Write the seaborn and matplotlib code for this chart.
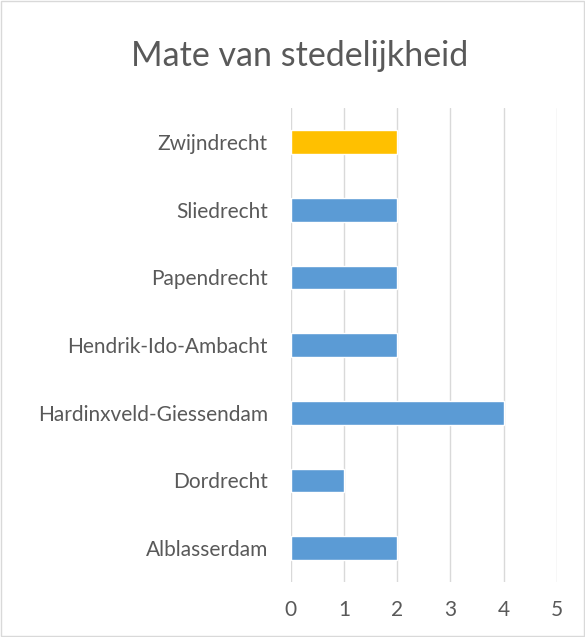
import matplotlib
matplotlib.use("Agg")
import matplotlib.pyplot as plt
import seaborn as sns
import pandas as pd

gemeenten = ['Zwijndrecht', 'Sliedrecht', 'Papendrecht', 'Hendrik-Ido-Ambacht',
             'Hardinxveld-Giessendam', 'Dordrecht', 'Alblasserdam']
stedelijkheid = [2, 2, 2, 2, 4, 1, 2]
kleuren = ['#FFC000', '#5B9BD5', '#5B9BD5', '#5B9BD5', '#5B9BD5', '#5B9BD5', '#5B9BD5']

sns.set_style('white')
plt.rcParams['font.family'] = ['Lato', 'DejaVu Sans']
text_kleur = '#595959'

df = pd.DataFrame({'gemeente': gemeenten, 'waarde': stedelijkheid})

fig = plt.figure(figsize=(5.85, 6.37), dpi=100)
ax = fig.add_axes([0.497, 0.0863, 0.455, 0.744])

sns.barplot(data=df, x='waarde', y='gemeente', hue='gemeente', order=gemeenten,
            palette=dict(zip(gemeenten, kleuren)), legend=False,
            width=0.35, saturation=1, ax=ax)

ax.set_xlim(0, 5)
ax.set_xticks(range(6))
ax.grid(axis='x', color='#D9D9D9', linewidth=1)
ax.set_axisbelow(True)
for s in ax.spines.values():
    s.set_visible(False)
ax.set_xlabel('')
ax.set_ylabel('')
ax.tick_params(axis='both', length=0, labelsize=15, colors=text_kleur)
ax.tick_params(axis='x', pad=13)
ax.tick_params(axis='y', pad=16.5)

fig.suptitle('Mate van stedelijkheid', x=0.512, y=0.937, fontsize=24.5, color=text_kleur)

rand = plt.Rectangle((0.002, 0.002), 0.996, 0.996, transform=fig.transFigure,
                     fill=False, edgecolor='#D9D9D9', linewidth=1)
fig.add_artist(rand)

fig.savefig('out.png', dpi=100)
